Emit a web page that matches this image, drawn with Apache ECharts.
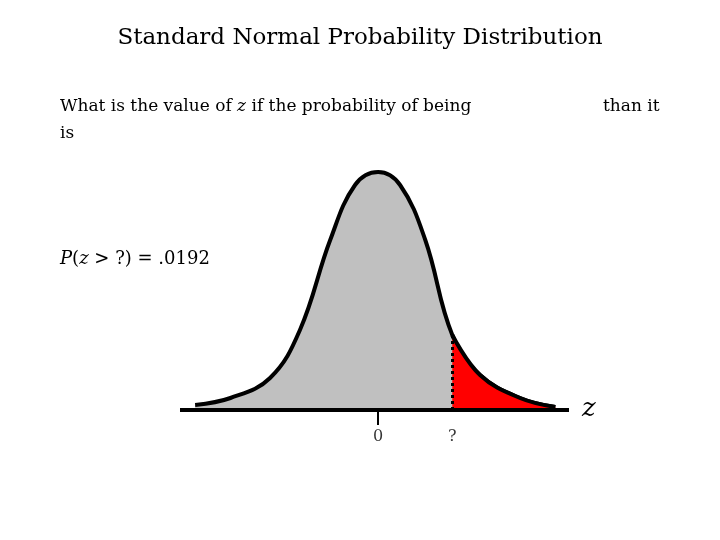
<!DOCTYPE html>
<html>
<head>
<meta charset="utf-8">
<script src="https://cdn.jsdelivr.net/npm/echarts@6/dist/echarts.min.js"></script>
<style>body{margin:0;background:#fff}#main{width:720px;height:540px}</style>
</head>
<body>
<div id="main"></div>
<script>
// curve: z position and height above baseline
var curveZ = [-5.08, -4.1, -3.0, -2.17, -1.33, -0.64, 0, 0.61, 1.31, 2.06, 2.83, 3.94, 4.92];
var curveH = [0.05, 0.12, 0.32, 0.8, 1.7, 2.25, 2.38, 2.25, 1.7, 0.75, 0.35, 0.12, 0.03];
var cutZ = 2.06;
var tickLabels = ['0', '?'];
var tickZ = [0, cutZ];

var curve = curveZ.map(function (z, i) { return [z, curveH[i]]; });
var tail = curve.filter(function (p) { return p[0] >= cutZ; });
var font = '"DejaVu Serif", "Liberation Serif", serif';

var myChart = echarts.init(document.getElementById('main'));
myChart.setOption({
    animation: false,
    grid: { left: 180, right: 151, top: 150, bottom: 100 },
    xAxis: { type: 'value', min: -5.5, max: 5.3, show: false },
    yAxis: { type: 'value', min: -0.3, max: 2.6, show: false },
    title: {
        text: 'Standard Normal Probability Distribution',
        left: 'center', top: 22,
        textStyle: { fontFamily: font, fontWeight: 'normal', fontSize: 23, color: '#000' }
    },
    graphic: [
        { type: 'text', left: 60, top: 98, style: { text: 'What is the value of {i|z} if the probability of being', font: '17px ' + font, fill: '#000',
            rich: { i: { fontStyle: 'italic', fontFamily: font, fontSize: 17 } } } },
        { type: 'text', left: 603, top: 98, style: { text: 'than it', font: '17px ' + font, fill: '#000' } },
        { type: 'text', left: 60, top: 125, style: { text: 'is', font: '17px ' + font, fill: '#000' } },
        { type: 'text', left: 60, top: 250, style: { text: '{i|P}({i|z} > ?) = .0192', font: '18px ' + font, fill: '#000',
            rich: { i: { fontStyle: 'italic', fontFamily: font, fontSize: 18 } } } },
        { type: 'text', left: 582, top: 396, style: { text: 'z', font: 'italic 26px ' + font, fill: '#000' } }
    ],
    series: [
        {
            type: 'line', data: curve, smooth: 0.4, symbol: 'none', z: 2,
            lineStyle: { color: '#000', width: 4 },
            areaStyle: { color: '#c0c0c0', opacity: 1 }
        },
        {
            type: 'line', data: tail, smooth: 0.4, symbol: 'none', z: 3,
            lineStyle: { color: '#000', width: 4 },
            areaStyle: { color: '#ff0000', opacity: 1 },
            markLine: {
                symbol: 'none', silent: true, label: { show: false },
                lineStyle: { type: 'dotted', width: 3, color: '#000' },
                data: [[{ coord: [cutZ, 0] }, { coord: [cutZ, 0.75] }]]
            }
        },
        {
            type: 'line', z: 5, symbol: 'none', silent: true, data: [],
            markLine: {
                symbol: 'none', silent: true, label: { show: false },
                data: [
                    [{ coord: [-5.5, 0], lineStyle: { type: 'solid', width: 4, color: '#000' } }, { coord: [5.3, 0] }],
                    [{ coord: [0, -0.15], lineStyle: { type: 'solid', width: 2, color: '#000' } }, { coord: [0, 0.0] }]
                ]
            }
        },
        {
            type: 'scatter', symbolSize: 0, z: 4,
            data: tickZ.map(function (z, i) { return { value: [z, -0.27], name: tickLabels[i] }; }),
            label: { show: true, position: 'inside', formatter: '{b}', fontFamily: font, fontSize: 16, color: '#000' }
        }
    ]
});
</script>
</body>
</html>
